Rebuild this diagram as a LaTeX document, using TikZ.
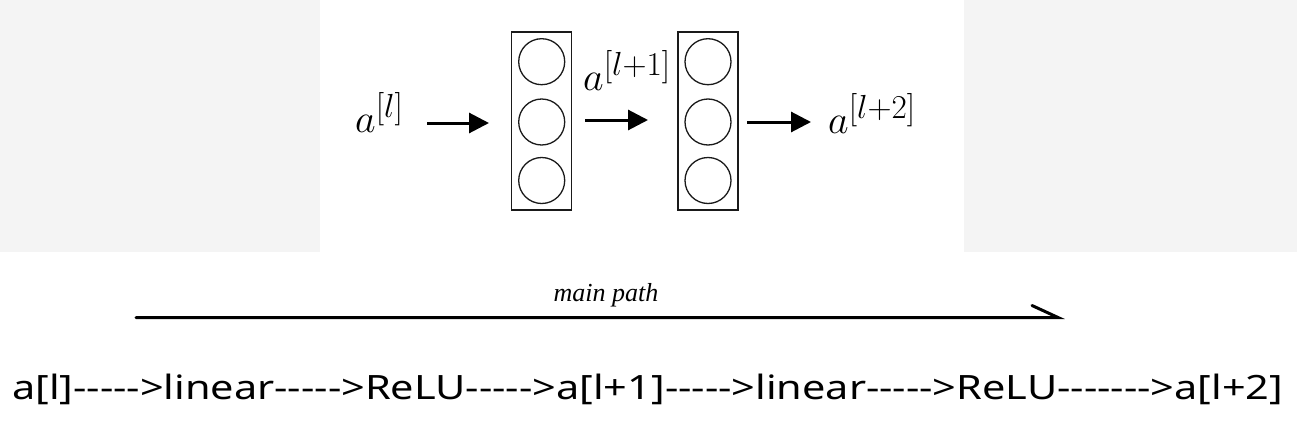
\documentclass[tikz,border=0pt]{standalone}
\usepackage{fontspec}
\usepackage{graphicx}
\setmainfont{Liberation Serif}
\newfontfamily\bottomfont{Noto Sans}
\usetikzlibrary{arrows.meta}
\definecolor{panel}{HTML}{F4F4F4}
\definecolor{ink}{HTML}{1A1A1A}
\newlength\bw
\newcommand\biglbl[1]{\scalebox{1.608}{\Huge$#1$}}
\begin{document}
\settowidth{\bw}{\bottomfont\fontsize{33.5}{40}\selectfont a[l]----->linear----->ReLU----->a[l+1]----->linear----->ReLU------->a[l+2]}
\begin{tikzpicture}[x=1pt,y=-1pt,
  layer/.style={draw=ink,line width=1.5pt,minimum width=60pt,minimum height=178pt,inner sep=0pt},
  neuron/.style={draw=ink,line width=1.3pt,circle,minimum size=46pt,inner sep=0pt},
  arr/.style={draw=black,line width=3pt,-{Triangle[length=20pt,width=20pt]}},
  mathlbl/.style={inner sep=0pt},
  mainline/.style={draw=black,line width=3pt,line cap=round}]
\useasboundingbox (0,0) rectangle (1297,444);
\fill[white] (0,0) rectangle (1297,444);
\fill[panel] (0,0) rectangle (320,252);
\fill[panel] (964,0) rectangle (1297,252);
% layers
\node[layer] (b1) at (541.7,120.8) {};
\node[layer] (b2) at (708,120.8) {};
\foreach \b/\x in {1/541.7,2/708}{
  \node[neuron] (n\b a) at (\x,61.7) {};
  \node[neuron] (n\b b) at (\x,122) {};
  \node[neuron] (n\b c) at (\x,180.5) {};
}
% labels
\node[mathlbl,anchor=base west] (al) at (355,132) {\biglbl{a^{[l]}}};
\node[mathlbl,anchor=base west] (al1) at (583,90) {\biglbl{a^{[l+1]}}};
\node[mathlbl,anchor=base west] (al2) at (828,133) {\biglbl{a^{[l+2]}}};
% arrows
\coordinate (p1s) at (427,123); \coordinate (p1e) at (489,123);
\coordinate (p2s) at (585,120); \coordinate (p2e) at (648,120);
\coordinate (p3s) at (747,122); \coordinate (p3e) at (811,122);
\draw[arr] (p1s) -- (p1e);
\draw[arr] (p2s) -- (p2e);
\draw[arr] (p3s) -- (p3e);
% main path
\coordinate (ms) at (136,317.5);
\coordinate (me) at (1058,317.5);
\draw[mainline] (ms) -- (me) -- ++(-26,-12);
\node[inner sep=0pt,font=\itshape\fontsize{26}{30}\selectfont] (mp) at (606,295) {main path};
% bottom text
\node[inner sep=0pt,anchor=base west] (bt) at (12,399) {\scalebox{\fpeval{1271pt/\bw}}[1]{\bottomfont\fontsize{33.5}{40}\selectfont a[l]----->linear----->ReLU----->a[l+1]----->linear----->ReLU------->a[l+2]}};
\end{tikzpicture}
\end{document}
